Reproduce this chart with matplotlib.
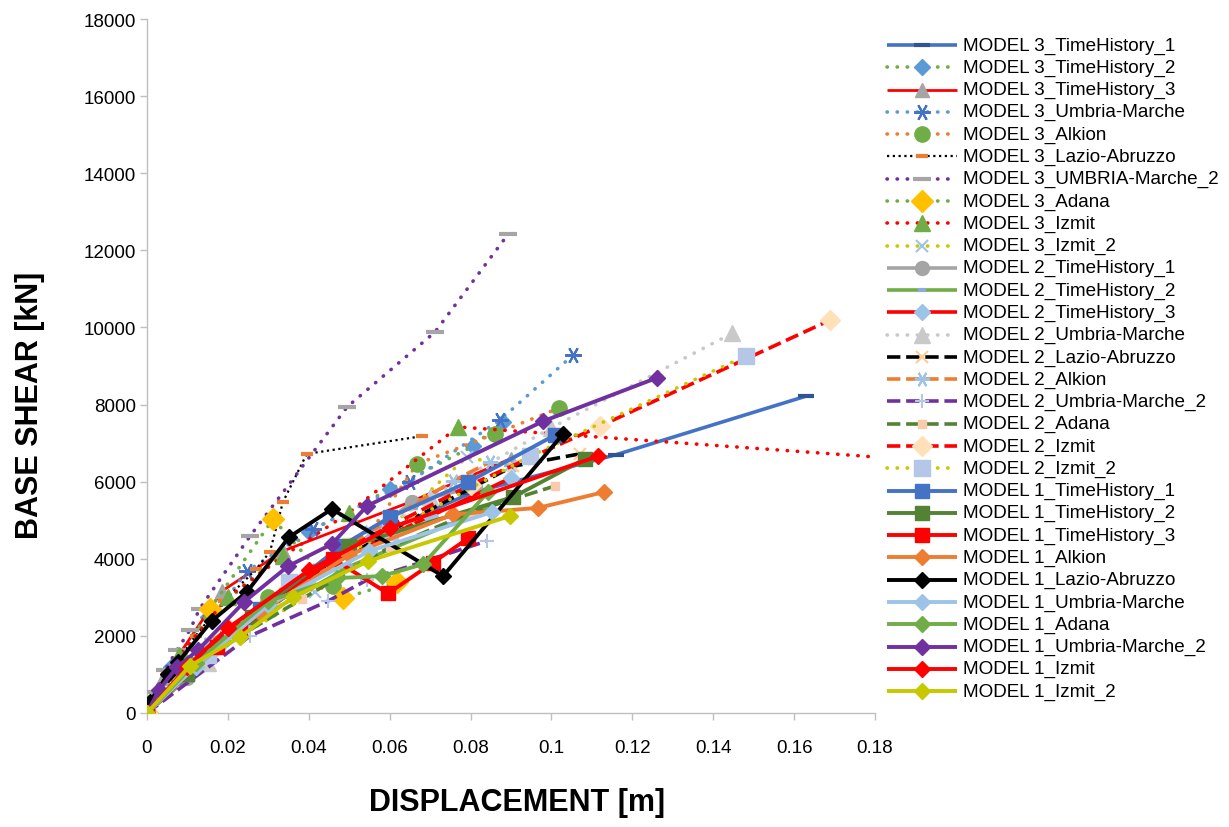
import matplotlib
matplotlib.use("Agg")
import matplotlib.pyplot as plt
from matplotlib.lines import Line2D

plt.rcParams['font.family'] = ['Liberation Sans', 'DejaVu Sans']

# ---- data: displacement [m] and base shear [kN] per analysis ----
m3_th1_x = [0, 0.02, 0.05, 0.08, 0.116, 0.163]
m3_th1_y = [0, 2100, 4300, 5700, 6700, 8220]
m3_th2_x = [0, 0.006, 0.015, 0.04, 0.06, 0.0806, 0.088]
m3_th2_y = [0, 1200, 2500, 4700, 5800, 6920, 7550]
m3_th3_x = [0, 0.004, 0.0185, 0.0336, 0.065, 0.09]
m3_th3_y = [0, 900, 3160, 4200, 5470, 6600]
m3_um_x = [0, 0.008, 0.0247, 0.041, 0.065, 0.0873, 0.1053]
m3_um_y = [0, 1300, 3680, 4770, 6000, 7600, 9280]
m3_alk_x = [0, 0.01, 0.03, 0.046, 0.0668, 0.086, 0.1019]
m3_alk_y = [0, 1300, 3000, 3290, 6460, 7240, 7910]
m3_laz_x = [0, 0.005, 0.012, 0.019, 0.027, 0.0304, 0.0336, 0.0395, 0.068]
m3_laz_y = [0, 1000, 2000, 2900, 3730, 4180, 5470, 6720, 7180]
m3_um2_x = [0, 0.002, 0.0045, 0.0074, 0.0106, 0.013, 0.0255, 0.0495, 0.0712, 0.0893]
m3_um2_y = [0, 545, 1115, 1630, 2150, 2700, 4590, 7940, 9880, 12420]
m3_ada_x = [0, 0.0156, 0.0312, 0.0485, 0.0618]
m3_ada_y = [0, 2700, 5030, 2980, 3400]
m3_izm_x = [0, 0.008, 0.02, 0.0337, 0.05, 0.0769, 0.2]
m3_izm_y = [0, 1500, 3000, 4070, 5200, 7420, 6490]
m3_izm2_x = [0, 0.015, 0.0415, 0.06, 0.0791, 0.0898]
m3_izm2_y = [0, 1500, 3140, 4800, 6640, 6400]

m2_th1_x = [0, 0.01, 0.03, 0.05, 0.0655, 0.081]
m2_th1_y = [0, 900, 2700, 4200, 5470, 5860]
m2_th2_x = [0, 0.012, 0.03, 0.05, 0.075, 0.092]
m2_th2_y = [0, 1100, 2600, 3800, 4900, 5700]
m2_th3_x = [0, 0.01, 0.025, 0.045, 0.07, 0.09]
m2_th3_y = [0, 1200, 2400, 3900, 5100, 6100]
m2_um_x = [0, 0.015, 0.04, 0.07, 0.1, 0.1447]
m2_um_y = [0, 1300, 3500, 5600, 7400, 9850]
m2_laz_x = [0, 0.02, 0.045, 0.065, 0.0905, 0.107]
m2_laz_y = [0, 2000, 3800, 5000, 6400, 6720]
m2_alk_x = [0, 0.015, 0.035, 0.055, 0.0757, 0.0848]
m2_alk_y = [0, 1800, 3300, 4700, 6020, 6510]
m2_um2_x = [0, 0.0255, 0.0447, 0.0544, 0.084]
m2_um2_y = [0, 2000, 2900, 3450, 4460]
m2_ada_x = [0, 0.015, 0.0383, 0.06, 0.08, 0.1009]
m2_ada_y = [0, 1500, 2960, 4300, 5200, 5890]
m2_izm_x = [0, 0.02, 0.05, 0.08, 0.112, 0.1689]
m2_izm_y = [0, 2200, 4300, 5920, 7440, 10190]
m2_izm2_x = [0, 0.015, 0.035, 0.06, 0.0947, 0.148]
m2_izm2_y = [0, 1500, 3400, 4700, 6660, 9260]

m1_th1_x = [0, 0.01, 0.028, 0.048, 0.0601, 0.0794, 0.1009]
m1_th1_y = [0, 1000, 2700, 4330, 5080, 5990, 7210]
m1_th2_x = [0, 0.01, 0.026, 0.05, 0.0905, 0.1083]
m1_th2_y = [0, 1000, 2500, 4330, 5600, 6590]
m1_th3_x = [0, 0.0173, 0.023, 0.046, 0.0596, 0.0707, 0.0794]
m1_th3_y = [0, 1710, 2180, 4000, 3100, 3900, 4530]
m1_alk_x = [0, 0.012, 0.028, 0.05, 0.0757, 0.0967, 0.113]
m1_alk_y = [0, 1300, 2600, 4100, 5150, 5320, 5730]
m1_laz_x = [0, 0.0007, 0.0052, 0.0077, 0.016, 0.0247, 0.0351, 0.0457, 0.0732, 0.1029]
m1_laz_y = [0, 290, 1010, 1320, 2390, 3140, 4560, 5290, 3550, 7240]
m1_um_x = [0, 0.012, 0.03, 0.055, 0.0853]
m1_um_y = [0, 1200, 2800, 4200, 5210]
m1_ada_x = [0, 0.012, 0.03, 0.047, 0.058, 0.0683, 0.0843]
m1_ada_y = [0, 1300, 2900, 3500, 3550, 3860, 5730]
m1_um2_x = [0, 0.003, 0.0074, 0.0126, 0.024, 0.0349, 0.0457, 0.0544, 0.098, 0.126]
m1_um2_y = [0, 600, 1190, 1630, 2880, 3810, 4380, 5370, 7570, 8690]
m1_izm_x = [0, 0.01, 0.02, 0.04, 0.06, 0.1115]
m1_izm_y = [0, 1200, 2200, 3700, 4800, 6660]
m1_izm2_x = [0, 0.0106, 0.023, 0.036, 0.0547, 0.0898]
m1_izm2_y = [0, 1220, 1970, 3000, 3940, 5110]

labels = [
    "MODEL 3_TimeHistory_1", "MODEL 3_TimeHistory_2", "MODEL 3_TimeHistory_3",
    "MODEL 3_Umbria-Marche", "MODEL 3_Alkion", "MODEL 3_Lazio-Abruzzo",
    "MODEL 3_UMBRIA-Marche_2", "MODEL 3_Adana", "MODEL 3_Izmit", "MODEL 3_Izmit_2",
    "MODEL 2_TimeHistory_1", "MODEL 2_TimeHistory_2", "MODEL 2_TimeHistory_3",
    "MODEL 2_Umbria-Marche", "MODEL 2_Lazio-Abruzzo", "MODEL 2_Alkion",
    "MODEL 2_Umbria-Marche_2", "MODEL 2_Adana", "MODEL 2_Izmit", "MODEL 2_Izmit_2",
    "MODEL 1_TimeHistory_1", "MODEL 1_TimeHistory_2", "MODEL 1_TimeHistory_3",
    "MODEL 1_Alkion", "MODEL 1_Lazio-Abruzzo", "MODEL 1_Umbria-Marche",
    "MODEL 1_Adana", "MODEL 1_Umbria-Marche_2", "MODEL 1_Izmit", "MODEL 1_Izmit_2",
]
xs = [m3_th1_x, m3_th2_x, m3_th3_x, m3_um_x, m3_alk_x, m3_laz_x, m3_um2_x, m3_ada_x,
      m3_izm_x, m3_izm2_x, m2_th1_x, m2_th2_x, m2_th3_x, m2_um_x, m2_laz_x, m2_alk_x,
      m2_um2_x, m2_ada_x, m2_izm_x, m2_izm2_x, m1_th1_x, m1_th2_x, m1_th3_x, m1_alk_x,
      m1_laz_x, m1_um_x, m1_ada_x, m1_um2_x, m1_izm_x, m1_izm2_x]
ys = [m3_th1_y, m3_th2_y, m3_th3_y, m3_um_y, m3_alk_y, m3_laz_y, m3_um2_y, m3_ada_y,
      m3_izm_y, m3_izm2_y, m2_th1_y, m2_th2_y, m2_th3_y, m2_um_y, m2_laz_y, m2_alk_y,
      m2_um2_y, m2_ada_y, m2_izm_y, m2_izm2_y, m1_th1_y, m1_th2_y, m1_th3_y, m1_alk_y,
      m1_laz_y, m1_um_y, m1_ada_y, m1_um2_y, m1_izm_y, m1_izm2_y]

# ---- styles ----
DOT = (0, (0.1, 2.7))
DASH = (0, (3.7, 1.6))
SQDOT = (0, (1, 1.6))
ASTER = (6, 2, 90)
styles = [
    # color, linestyle, lw, marker, marker color, marker size, mew
    ("#4472C4", "-", 2.6, "_", "#2F5597", 11, 3),
    ("#70AD47", DOT, 2.6, "D", "#5B9BD5", 8, 1),
    ("#FF0000", "-", 2.0, "^", "#A5A5A5", 10, 1),
    ("#5B9BD5", DOT, 2.6, ASTER, "#4472C4", 12, 1.5),
    ("#ED7D31", DOT, 2.6, "o", "#70AD47", 11, 1),
    ("#000000", SQDOT, 1.6, "_", "#ED7D31", 9, 3),
    ("#7030A0", DOT, 2.6, "_", "#A5A5A5", 13, 3),
    ("#70AD47", DOT, 2.6, "D", "#FFC000", 11, 1),
    ("#FF0000", DOT, 2.6, "^", "#70AD47", 11, 1),
    ("#C8C800", DOT, 2.6, "x", "#9DC3E6", 9, 1.5),
    ("#A5A5A5", "-", 2.6, "o", "#A5A5A5", 10, 1),
    ("#70AD47", "-", 2.6, "_", "#8FAADC", 6, 3),
    ("#FF0000", "-", 2.6, "D", "#9DC3E6", 8, 1),
    ("#C9C9C9", DOT, 2.6, "^", "#C9C9C9", 11, 1),
    ("#000000", DASH, 2.6, "x", "#FFCC99", 9, 1.5),
    ("#ED7D31", DASH, 2.6, ASTER, "#9DC3E6", 11, 1.5),
    ("#7030A0", DASH, 2.6, "+", "#B4C7E7", 10, 1.5),
    ("#548235", DASH, 2.6, "s", "#F8CBAD", 6, 1),
    ("#FF0000", DASH, 2.6, "D", "#FFE0B8", 10, 1),
    ("#C8C800", DOT, 2.6, "s", "#B4C7E7", 11, 1),
    ("#4472C4", "-", 2.8, "s", "#4472C4", 10, 1),
    ("#548235", "-", 2.8, "s", "#548235", 10, 1),
    ("#FF0000", "-", 2.8, "s", "#FF0000", 10, 1),
    ("#ED7D31", "-", 2.8, "D", "#ED7D31", 8, 1),
    ("#000000", "-", 2.8, "D", "#000000", 8, 1),
    ("#9DC3E6", "-", 2.8, "D", "#9DC3E6", 8, 1),
    ("#70AD47", "-", 2.8, "D", "#70AD47", 8, 1),
    ("#7030A0", "-", 2.8, "D", "#7030A0", 8, 1),
    ("#FF0000", "-", 2.8, "D", "#FF0000", 8, 1),
    ("#C8C800", "-", 2.8, "D", "#C8C800", 8, 1),
]

W, H = 1229, 828
fig = plt.figure(figsize=(W / 100, H / 100), dpi=100)
ax = fig.add_axes([147 / W, 1 - 714 / H, (875 - 147) / W, (714 - 20) / H])


def line_kw(st):
    color, ls, lw, mk, mc, ms, mew = st
    kw = dict(color=color, linestyle=ls, linewidth=lw, marker=mk, markersize=ms,
              markerfacecolor=mc, markeredgecolor=mc, markeredgewidth=mew,
              dash_capstyle="round" if ls in (DOT,) else "butt",
              solid_capstyle="butt")
    return kw


for i, (x, y, st) in enumerate(zip(xs, ys, styles)):
    ax.plot(x, y, zorder=2 + i * 0.1, **line_kw(st))

ax.set_xlim(0, 0.18)
ax.set_ylim(0, 18000)
ax.set_xticks([0.0, 0.02, 0.04, 0.06, 0.08, 0.1, 0.12, 0.14, 0.16, 0.18])
ax.set_xticklabels(["0", "0.02", "0.04", "0.06", "0.08", "0.1", "0.12", "0.14", "0.16", "0.18"])
ax.set_yticks(range(0, 18001, 2000))
for s in ("top", "right"):
    ax.spines[s].set_visible(False)
for s in ("left", "bottom"):
    ax.spines[s].set_color("#BFBFBF")
    ax.spines[s].set_linewidth(1.0)
ax.tick_params(axis="both", direction="out", length=5, width=1, color="#BFBFBF",
               labelsize=13.5, labelcolor="black")
ax.tick_params(axis="x", pad=14)
ax.tick_params(axis="y", pad=3)

fig.text(517 / W, 1 - 803 / H, "DISPLACEMENT [m]", fontsize=22, fontweight="bold",
         ha="center", va="center")
fig.text(30 / W, 1 - 405 / H, "BASE SHEAR [kN]", fontsize=22, fontweight="bold",
         ha="center", va="center", rotation=90)

# ---- legend drawn row by row on the figure ----
row0, step = 46, 22.28
for i, (lab, st) in enumerate(zip(labels, styles)):
    yp = 1 - (row0 + i * step) / H
    kw = line_kw(st)
    kw_line = dict(kw)
    kw_line["marker"] = None
    fig.add_artist(Line2D([887 / W, 957 / W], [yp, yp], transform=fig.transFigure, **kw_line))
    kw_mk = dict(kw)
    kw_mk["linestyle"] = "none"
    fig.add_artist(Line2D([922 / W], [yp], transform=fig.transFigure, **kw_mk))
    fig.text(963 / W, yp, lab, fontsize=13.6, va="center", ha="left")

fig.savefig("out.png", dpi=100)
